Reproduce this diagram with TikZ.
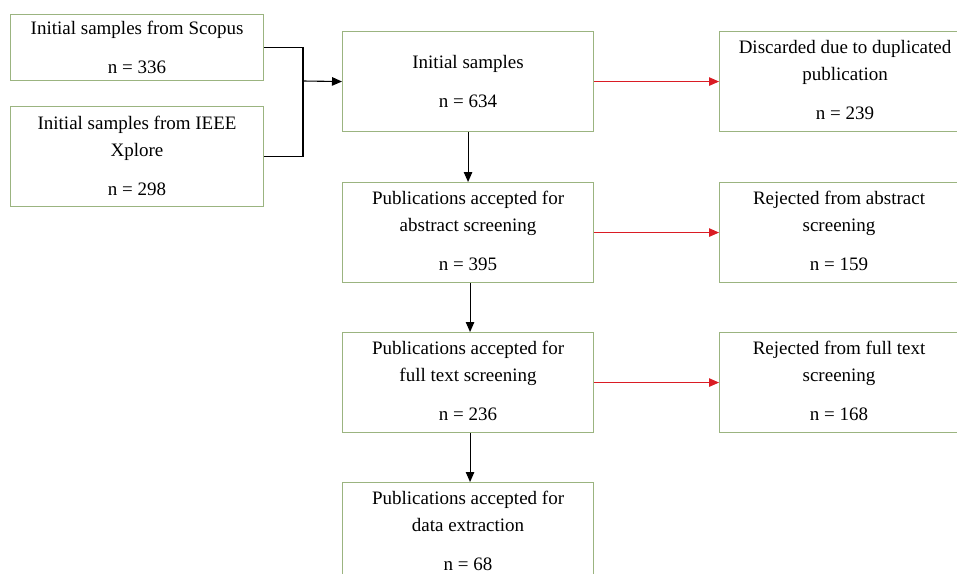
\documentclass[tikz,border=0pt]{standalone}
\usepackage{fontspec}
\setmainfont{Liberation Serif}
\usetikzlibrary{arrows.meta}
\definecolor{boxgreen}{RGB}{155,180,128}
\definecolor{arrred}{RGB}{218,28,36}
\begin{document}
\begin{tikzpicture}[x=1pt,y=-1pt,
  box/.style={draw=boxgreen, line width=1.1pt, fill=white, rectangle, inner sep=0pt,
    minimum width=251pt, minimum height=100pt, anchor=north west},
  txt/.style={align=center, anchor=base, inner sep=0pt,
    font=\fontsize{19}{26.8}\selectfont},
  blk/.style={draw=black, line width=1.1pt, -{Triangle[length=10pt,width=8.5pt]}},
  red/.style={draw=arrred, line width=1.1pt, -{Triangle[length=10pt,width=8.5pt]}},
  mrg/.style={draw=black, line width=1.1pt}]
\useasboundingbox (0,0) rectangle (957,573);
\clip (0,0) rectangle (957,573);
\fill[white] (0,0) rectangle (957,573);

% boxes
\node[box, minimum width=253pt, minimum height=66pt] (scopus) at (10,14) {};
\node[box, minimum width=253pt] (ieee) at (10,106) {};
\node[box] (init) at (342,31) {};
\node[box] (disc) at (719,31) {};
\node[box] (abs) at (342,182) {};
\node[box] (rabs) at (719,182) {};
\node[box] (full) at (342,332) {};
\node[box] (rfull) at (719,332) {};
\node[box] (data) at (342,482) {};

% texts (anchor = baseline of the last line)
\node[txt] (scopusT) at ([yshift=-59pt]scopus.north) {Initial samples from Scopus\\[11.5pt] n = 336};
\node[txt] (ieeeT) at ([yshift=-89pt]ieee.north) {Initial samples from IEEE\\ Xplore\\[11.5pt] n = 298};
\node[txt] (initT) at ([yshift=-76pt]init.north) {Initial samples\\[11.5pt] n = 634};
\node[txt] (discT) at ([yshift=-88pt]disc.north) {Discarded due to duplicated\\ publication\\[11.5pt] n = 239};
\node[txt] (absT) at ([yshift=-88pt]abs.north) {Publications accepted for\\ abstract screening\\[11.5pt] n = 395};
\node[txt] (rabsT) at ([yshift=-88pt,xshift=-6pt]rabs.north) {Rejected from abstract\\ screening\\[11.5pt] n = 159};
\node[txt] (fullT) at ([yshift=-88pt]full.north) {Publications accepted for\\ full text screening\\[11.5pt] n = 236};
\node[txt] (rfullT) at ([yshift=-88pt,xshift=-6pt]rfull.north) {Rejected from full text\\ screening\\[11.5pt] n = 168};
\node[txt] (dataT) at ([yshift=-88pt]data.north) {Publications accepted for\\ data extraction\\[11.5pt] n = 68};

% merge connector
\coordinate (mj) at (303,81);
\draw[mrg] (scopus.east) -| (mj) |- (ieee.east);
\draw[blk] (mj) -- (init.west);

% main flow
\draw[blk] (init.south) -- (abs.north);
\draw[blk] ([xshift=2pt]abs.south) -- ([xshift=2pt]full.north);
\draw[blk] ([xshift=2pt]full.south) -- ([xshift=2pt]data.north);

% rejections
\draw[red] (init.east) -- (disc.west);
\draw[red] (abs.east) -- (rabs.west);
\draw[red] (full.east) -- (rfull.west);
\end{tikzpicture}
\end{document}
